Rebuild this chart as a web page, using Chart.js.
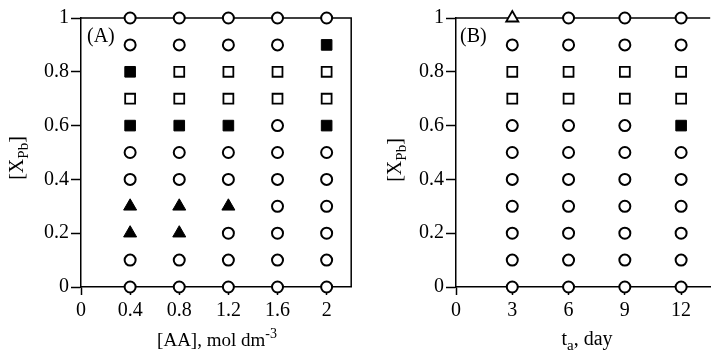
<!DOCTYPE html>
<html><head><meta charset="utf-8">
<script src="https://cdn.jsdelivr.net/npm/chart.js@4"></script>
<style>
html,body{margin:0;padding:0;background:#fff;overflow:hidden;width:719px;height:354px;}
#wa{position:absolute;left:0;top:0;}
#wb{position:absolute;left:360px;top:0;}
</style></head>
<body>
<div id="wa"><canvas id="ca" width="360" height="354"></canvas></div>
<div id="wb"><canvas id="cb" width="359" height="354"></canvas></div>
<script>
// ---------- data (panel A: x = [AA], mol dm-3 ; panel B: x = t_a, day ; y = X_Pb) ----------
const ticksAx = [0, 0.4, 0.8, 1.2, 1.6, 2];
const ticksBx = [0, 3, 6, 9, 12];
const ticksY  = [0, 0.2, 0.4, 0.6, 0.8, 1];

const openCirclesA = [
  [0.4,1],[0.4,0.9],[0.4,0.5],[0.4,0.4],[0.4,0.1],[0.4,0],
  [0.8,1],[0.8,0.9],[0.8,0.5],[0.8,0.4],[0.8,0.1],[0.8,0],
  [1.2,1],[1.2,0.9],[1.2,0.5],[1.2,0.4],[1.2,0.2],[1.2,0.1],[1.2,0],
  [1.6,1],[1.6,0.9],[1.6,0.6],[1.6,0.5],[1.6,0.4],[1.6,0.3],[1.6,0.2],[1.6,0.1],[1.6,0],
  [2,1],[2,0.5],[2,0.4],[2,0.3],[2,0.2],[2,0.1],[2,0]
];
const openSquaresA = [[0.4,0.7],[0.8,0.8],[0.8,0.7],[1.2,0.8],[1.2,0.7],[1.6,0.8],[1.6,0.7],[2,0.8],[2,0.7]];
const filledSquaresA = [[0.4,0.8],[0.4,0.6],[0.8,0.6],[1.2,0.6],[2,0.9],[2,0.6]];
const filledTrianglesA = [[0.4,0.3],[0.4,0.2],[0.8,0.3],[0.8,0.2],[1.2,0.3]];

const openCirclesB = [
  [3,0.9],[3,0.6],[3,0.5],[3,0.4],[3,0.3],[3,0.2],[3,0.1],[3,0],
  [6,1],[6,0.9],[6,0.6],[6,0.5],[6,0.4],[6,0.3],[6,0.2],[6,0.1],[6,0],
  [9,1],[9,0.9],[9,0.6],[9,0.5],[9,0.4],[9,0.3],[9,0.2],[9,0.1],[9,0],
  [12,1],[12,0.9],[12,0.5],[12,0.4],[12,0.3],[12,0.2],[12,0.1],[12,0]
];
const openSquaresB = [[3,0.8],[3,0.7],[6,0.8],[6,0.7],[9,0.8],[9,0.7],[12,0.8],[12,0.7]];
const filledSquaresB = [[12,0.6]];
const openTrianglesB = [[3,1]];

// ---------- styling ----------
const FONT = "'Liberation Serif', 'Times New Roman', serif";
const toPts = arr => arr.map(p => ({x: p[0], y: p[1]}));
const styles = {
  openCircle:   {pointStyle:'circle',   pointRadius:5.5, pointBorderWidth:2,   pointBackgroundColor:'#fff', pointBorderColor:'#000'},
  openSquare:   {pointStyle:'rect',     pointRadius:7,   pointBorderWidth:1.8, pointBackgroundColor:'#fff', pointBorderColor:'#000'},
  filledSquare: {pointStyle:'rect',     pointRadius:7.5, pointBorderWidth:1,   pointBackgroundColor:'#000', pointBorderColor:'#000'},
  filledTri:    {pointStyle:'triangle', pointRadius:7.5, pointBorderWidth:1,   pointBackgroundColor:'#000', pointBorderColor:'#000'},
  openTri:      {pointStyle:'triangle', pointRadius:7,   pointBorderWidth:1.8, pointBackgroundColor:'#fff', pointBorderColor:'#000'}
};
function ds(arr, st){ return Object.assign({data: toPts(arr), showLine:false, clip:false, pointHoverRadius: st.pointRadius}, st); }

function drawRich(ctx, parts, x, y){
  let total = 0;
  parts.forEach(p => { ctx.font = p.size + 'px ' + FONT; p.w = ctx.measureText(p.t).width; total += p.w; });
  let cx = x - total/2;
  ctx.textBaseline = 'alphabetic'; ctx.textAlign = 'left'; ctx.fillStyle = '#000';
  parts.forEach(p => { ctx.font = p.size + 'px ' + FONT; ctx.fillText(p.t, cx, y + (p.dy||0)); cx += p.w; });
}

const framePlugin = {
  id: 'frame',
  beforeDatasetsDraw(chart, args, o){
    const {ctx, chartArea:a} = chart;
    ctx.save(); ctx.strokeStyle='#000'; ctx.lineWidth=1.5;
    ctx.beginPath(); ctx.moveTo(a.left, a.top); ctx.lineTo(a.right, a.top);
    if (o.right) ctx.lineTo(a.right, a.bottom);
    ctx.stroke(); ctx.restore();
  },
  afterDraw(chart, args, o){
    const ctx = chart.ctx;
    ctx.save();
    drawRich(ctx, o.xTitle, o.xTitlePos[0], o.xTitlePos[1]);
    ctx.save(); ctx.translate(o.yTitlePos[0], o.yTitlePos[1]); ctx.rotate(-Math.PI/2);
    drawRich(ctx, o.yTitle, 0, 0);
    ctx.restore();
    ctx.font = '20px ' + FONT; ctx.fillStyle='#000'; ctx.textAlign='left'; ctx.textBaseline='alphabetic';
    ctx.fillText(o.panel, o.panelPos[0], o.panelPos[1]);
    ctx.restore();
  }
};

const fmt = v => String(Math.round(v * 1000) / 1000);

function makeChart(id, datasets, xmin, xmax, xticks, yWidth, padRight, frameOpts){
  return new Chart(document.getElementById(id), {
    type: 'scatter',
    data: {datasets},
    plugins: [framePlugin],
    options: {
      responsive:false, animation:false, events:[],
      layout:{padding:{left:0, right:padRight, top:18, bottom:0}},
      plugins:{legend:{display:false}, tooltip:{enabled:false}, frame: frameOpts},
      scales:{
        x:{type:'linear', min:xmin, max:xmax,
           afterBuildTicks: s => { s.ticks = xticks.map(v => ({value:v})); },
           afterFit: s => { s.height = 67; },
           grid:{drawOnChartArea:false, drawTicks:true, tickLength:8, tickWidth:1.5, tickColor:'#000'},
           border:{display:true, color:'#000', width:1.5},
           ticks:{color:'#000', font:{family:FONT, size:20}, padding:4, maxRotation:0, autoSkip:false, callback: fmt}},
        y:{type:'linear', min:0, max:1,
           afterBuildTicks: s => { s.ticks = ticksY.map(v => ({value:v})); },
           afterFit: s => { s.width = yWidth; },
           grid:{drawOnChartArea:false, drawTicks:true, tickLength:10, tickWidth:1.5, tickColor:'#000'},
           border:{display:true, color:'#000', width:1.5},
           ticks:{color:'#000', font:{family:FONT, size:20}, padding:2, autoSkip:false, callback: fmt}}
      }
    }
  });
}

makeChart('ca', [
  ds(openCirclesA, styles.openCircle),
  ds(openSquaresA, styles.openSquare),
  ds(filledSquaresA, styles.filledSquare),
  ds(filledTrianglesA, styles.filledTri)
], 0, 2.2, ticksAx, 81, 7, {
  right:true,
  xTitle:[{t:'[AA], mol dm', size:19},{t:'-3', size:14, dy:-8}], xTitlePos:[217,346],
  yTitle:[{t:'[X', size:20},{t:'Pb', size:15, dy:5},{t:']', size:20}], yTitlePos:[23,158],
  panel:'(A)', panelPos:[87,42]
});

makeChart('cb', [
  ds(openCirclesB, styles.openCircle),
  ds(openSquaresB, styles.openSquare),
  ds(filledSquaresB, styles.filledSquare),
  ds(openTrianglesB, styles.openTri)
], 0, 13.55, ticksBx, 96, 1, {
  right:false,
  xTitle:[{t:'t', size:20},{t:'a', size:15, dy:5},{t:', day', size:20}], xTitlePos:[227,345],
  yTitle:[{t:'[X', size:20},{t:'Pb', size:15, dy:5},{t:']', size:20}], yTitlePos:[41,160],
  panel:'(B)', panelPos:[100,42]
});
</script>
</body></html>
